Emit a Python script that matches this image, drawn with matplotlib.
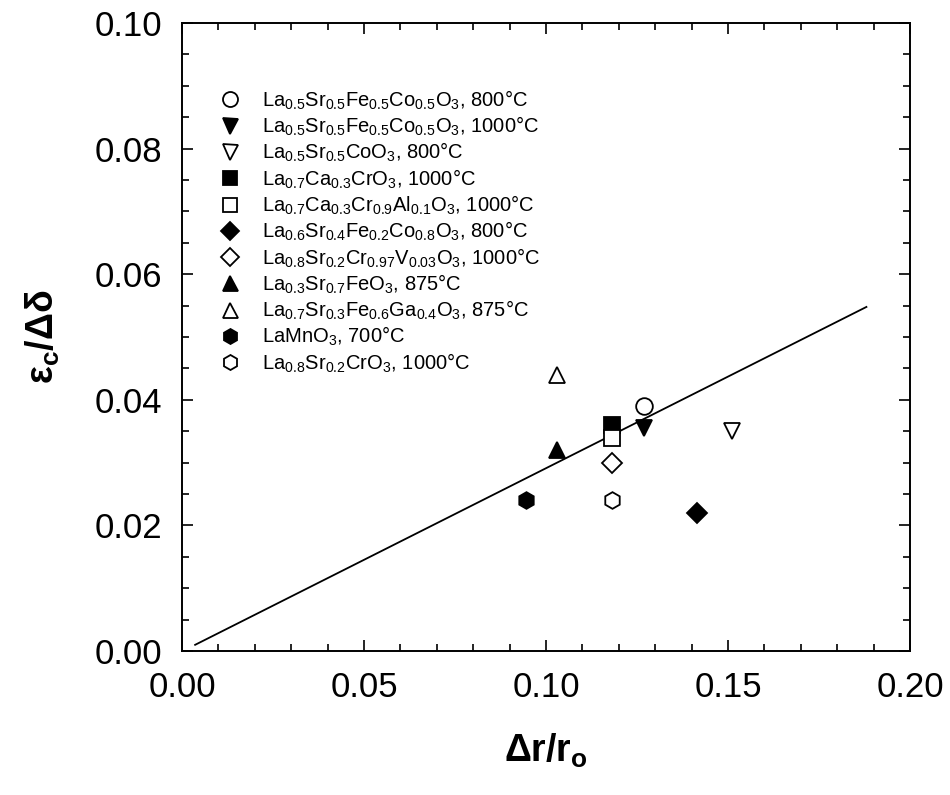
import matplotlib
matplotlib.use("Agg")
import matplotlib.pyplot as plt
from matplotlib.ticker import MultipleLocator

plt.rcParams['font.family'] = ['Liberation Sans', 'DejaVu Sans']
plt.rcParams['mathtext.fontset'] = 'custom'
plt.rcParams['mathtext.rm'] = 'Liberation Sans'
plt.rcParams['mathtext.it'] = 'Liberation Sans:italic'
plt.rcParams['mathtext.bf'] = 'Liberation Sans:bold'

# data
labels = [
    r'$\mathregular{La_{0.5}Sr_{0.5}Fe_{0.5}Co_{0.5}O_3}$, 800°C',
    r'$\mathregular{La_{0.5}Sr_{0.5}Fe_{0.5}Co_{0.5}O_3}$, 1000°C',
    r'$\mathregular{La_{0.5}Sr_{0.5}CoO_3}$, 800°C',
    r'$\mathregular{La_{0.7}Ca_{0.3}CrO_3}$, 1000°C',
    r'$\mathregular{La_{0.7}Ca_{0.3}Cr_{0.9}Al_{0.1}O_3}$, 1000°C',
    r'$\mathregular{La_{0.6}Sr_{0.4}Fe_{0.2}Co_{0.8}O_3}$, 800°C',
    r'$\mathregular{La_{0.8}Sr_{0.2}Cr_{0.97}V_{0.03}O_3}$, 1000°C',
    r'$\mathregular{La_{0.3}Sr_{0.7}FeO_3}$, 875°C',
    r'$\mathregular{La_{0.7}Sr_{0.3}Fe_{0.6}Ga_{0.4}O_3}$, 875°C',
    r'$\mathregular{LaMnO_3}$, 700°C',
    r'$\mathregular{La_{0.8}Sr_{0.2}CrO_3}$, 1000°C',
]
dr_r = [0.127, 0.127, 0.151, 0.118, 0.118, 0.1415, 0.118, 0.103, 0.103, 0.0945, 0.118]
eps_dd = [0.039, 0.0355, 0.035, 0.036, 0.034, 0.022, 0.030, 0.032, 0.044, 0.024, 0.024]
markers = ['o', 'v', 'v', 's', 's', 'D', 'D', '^', '^', 'h', 'h']
filled = [False, True, False, True, False, True, False, True, False, True, False]
sizes = [12, 12, 12, 11, 11, 10, 10, 12, 12, 12, 12]

fit_x = [0.0036, 0.188]
fit_y = [0.0010, 0.0548]

fig = plt.figure(figsize=(9.5, 7.95), dpi=100)
ax = fig.add_axes([0.1916, 0.181, 0.7664, 0.790])

ax.plot(fit_x, fit_y, color='black', lw=1.3)

for x, y, m, f, s, lab in zip(dr_r, eps_dd, markers, filled, sizes, labels):
    ax.plot(x, y, linestyle='none', marker=m, markersize=s,
            markerfacecolor='black' if f else 'white',
            markeredgecolor='black', markeredgewidth=1.3, label=lab)

ax.set_xlim(0, 0.20)
ax.set_ylim(0, 0.10)
ax.xaxis.set_major_locator(MultipleLocator(0.05))
ax.xaxis.set_minor_locator(MultipleLocator(0.01))
ax.yaxis.set_major_locator(MultipleLocator(0.02))
ax.yaxis.set_minor_locator(MultipleLocator(0.005))
ax.xaxis.set_major_formatter(lambda v, p: f'{v:.2f}')
ax.yaxis.set_major_formatter(lambda v, p: f'{v:.2f}')

ax.tick_params(which='both', direction='in', top=True, right=True, width=1.2)
ax.tick_params(which='major', length=8, labelsize=25, pad=14)
ax.tick_params(which='minor', length=5)
for sp in ax.spines.values():
    sp.set_linewidth(1.4)

ax.set_xlabel(r'$\mathbf{\Delta r/r_o}$', fontsize=27, labelpad=20)
ax.set_ylabel(r'$\mathbf{ε_c/Δδ}$', fontsize=27, labelpad=24)

ax.legend(loc='upper left', bbox_to_anchor=(0.027, 0.925), frameon=False,
          fontsize=14.5, handletextpad=1.1, labelspacing=0.15,
          handlelength=1.0, markerscale=0.9)

fig.savefig('out.png', dpi=100)
